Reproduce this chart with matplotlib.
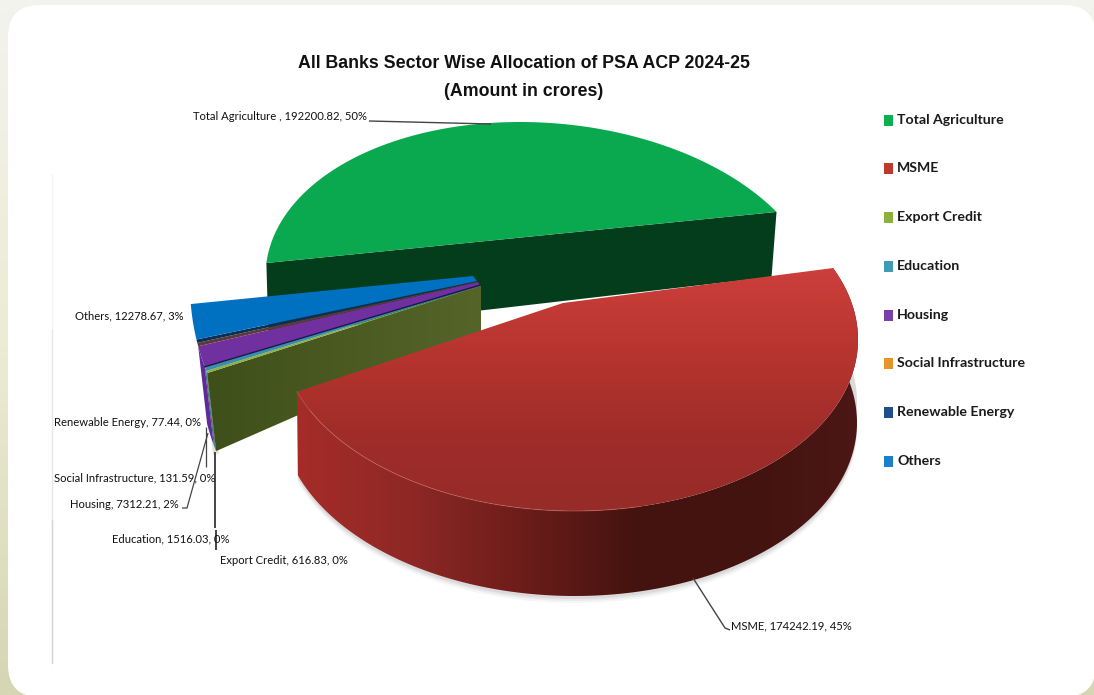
import numpy as np
import matplotlib
matplotlib.use('Agg')
import matplotlib.pyplot as plt
from matplotlib.colors import LinearSegmentedColormap
from matplotlib.patches import FancyBboxPatch, Polygon, Rectangle

# sector allocation, crores
SECTORS = ['Total Agriculture', 'MSME', 'Export Credit', 'Education', 'Housing',
           'Social Infrastructure', 'Renewable Energy', 'Others']
AMOUNTS = [192200.82, 174242.19, 616.83, 1516.03, 7312.21, 131.59, 77.44, 12278.67]
SHARES = [50, 45, 0, 0, 2, 0, 0, 3]

LEGEND_COLORS = ['#0bb050', '#c0392f', '#8cb03c', '#3f9cb5', '#7a3fa8', '#e8942a', '#1f4e8c', '#1a80cc']
FACE_COLORS = ['#0aa84f', '#c23a36', '#8fb040', '#3a8fa8', '#7030a0', '#5c3a36', '#0c2f58', '#0070c0']
WALL_COLORS = ['#033d1b', '#5c1a18', '#4a5a20', '#2f7488', '#5f2a98', '#5c3a36', '#0c2f58', '#0070c0']

TITLE_LINES = ['All Banks Sector Wise Allocation of PSA ACP 2024-25', '(Amount in crores)']

W, H = 1094, 695
GREEN_ARC = dict(center=(542.5, 290), radii=(277, 168), skew=0.081)
RED_ARC = dict(center=(569, 336), radii=(289, 175), skew=0.02)
RED_FLOOR = dict(center=(569, 419), radii=(288, 177), skew=0.02)
SMALL_ARC = dict(center=(480, 285), radii=(290, 260), skew=0.0)
MIN_SWEEP = 1.1

total = sum(AMOUNTS)
sweep = np.array(AMOUNTS) / total * 360


def arc(center, radii, skew, t0, t1, n=120):
    t = np.radians(np.linspace(t0, t1, n))
    x = center[0] + radii[0] * np.cos(t)
    y = center[1] + radii[1] * (skew * np.cos(t) + np.sqrt(1 - skew ** 2) * np.sin(t))
    return np.column_stack([x, y])


def gradient_fill(ax, xy, stops, vertical=False, z=2):
    xy = np.asarray(xy)
    poly = Polygon(xy, closed=True, fc='none', ec='none', zorder=z)
    ax.add_patch(poly)
    cmap = LinearSegmentedColormap.from_list('g', stops)
    ramp = np.linspace(0, 1, 256)
    ramp = ramp[:, None] if vertical else ramp[None, :]
    im = ax.imshow(ramp, cmap=cmap, aspect='auto', zorder=z, interpolation='bilinear',
                   extent=(xy[:, 0].min(), xy[:, 0].max(), xy[:, 1].max(), xy[:, 1].min()))
    im.set_clip_path(poly)


fig = plt.figure(figsize=(W / 100, H / 100), dpi=100)
ax = fig.add_axes([0, 0, 1, 1])
ax.set_axis_off()

# cream frame and white card
bg = np.linspace(0, 1, 64)[:, None]
ax.imshow(bg, cmap=LinearSegmentedColormap.from_list('bg', ['#f3f3ee', '#ecebd4', '#d6d6b4']),
          extent=(0, W, H, 0), aspect='auto', zorder=0)
ax.add_patch(FancyBboxPatch((8, 5), 1088, 692, boxstyle='round,pad=0,rounding_size=32',
                            fc='white', ec='none', zorder=1))
# faint rule on the left, fades out upward
ax.plot([52, 52], [175, 330], color='#f3f3f3', lw=1, zorder=1.5)
ax.plot([52, 52], [330, 520], color='#e6e6e6', lw=1, zorder=1.5)
ax.plot([52, 52], [520, 663], color='#d4d4d4', lw=1, zorder=1.5)

# Total Agriculture, pulled back from the rest
g_sweep = sweep[0] * 0.803
g_arc = arc(t0=184.6, t1=184.6 + g_sweep, **GREEN_ARC)
left, right = g_arc[0], g_arc[-1]
ax.add_patch(Polygon([left, right, right + (-5, 65), left + (2, 72)], fc=WALL_COLORS[0], ec='none', zorder=2))
ax.add_patch(Polygon(g_arc, fc=FACE_COLORS[0], ec='none', zorder=3))

# narrow slices on the left, export credit through others
small_idx = [2, 3, 4, 5, 6, 7]
small_sweep = np.maximum(sweep[small_idx], [MIN_SWEEP if i in (5, 6) else 0.7 if i == 2 else 0 for i in small_idx])
stretch = 15.6 / small_sweep.sum()
edges = 160.2 + np.concatenate([[0], np.cumsum(small_sweep * stretch)])
near_apex, far_apex = np.array([481.0, 286.0]), np.array([473.0, 276.0])
fracs = (edges - edges[0]) / (edges[-1] - edges[0])
apex_at = [near_apex + f * (far_apex - near_apex) for f in fracs]
lip = (9, 78)

# shadow under the narrow walls
end_pt = arc(t0=edges[0], t1=edges[0], n=1, **SMALL_ARC)[0]
shade = Polygon([end_pt + (-4, 4), end_pt + (6, 82), end_pt + (12, 80)], fc='#888888', alpha=0.25, ec='none', zorder=3.5)
ax.add_patch(shade)

for pos, i in enumerate(small_idx[:3]):
    seg = arc(t0=edges[pos], t1=edges[pos + 1], n=12, **SMALL_ARC)
    wall = np.vstack([seg, seg[::-1] + lip])
    ax.add_patch(Polygon(wall, fc=WALL_COLORS[i], ec='none', zorder=4))

for pos, i in enumerate(small_idx):
    seg = arc(t0=edges[pos], t1=edges[pos + 1], n=12, **SMALL_ARC)
    ax.add_patch(Polygon(np.vstack([apex_at[pos], seg, apex_at[pos + 1]]),
                         fc=FACE_COLORS[i], ec='none', zorder=5))

# dark seam along the lower side of the housing slice
seam = arc(t0=edges[2], t1=edges[2], n=1, **SMALL_ARC)[0]
ax.plot([seam[0], apex_at[2][0]], [seam[1], apex_at[2][1]], color='#1c1650', lw=1.0, zorder=5.5)

# cut wall of the export credit slice, runs back to the centre
near_top = end_pt
far_top = near_apex
wall_pts = [near_top, far_top, far_top + (0, 49), near_top + lip]
gradient_fill(ax, wall_pts, ['#3e4f1a', '#4a5a20', '#55652a'], z=4.5)

# MSME, pulled toward the viewer
r_sweep = sweep[1] * 1.141
r_top = arc(t0=-24, t1=-24 + r_sweep, n=240, **RED_ARC)
r_low = arc(t0=-24, t1=-24 + r_sweep, n=240, **RED_FLOOR)
red_apex = np.array([563.0, 303.0])

for off, alpha in ((7, 0.05), (5, 0.07), (3, 0.1)):
    ax.add_patch(Polygon(np.vstack([r_low + (0, off), r_low[::-1] + (0, -20)]),
                         fc='#555555', alpha=alpha, ec='none', zorder=5.7))

gradient_fill(ax, np.vstack([r_top, r_low[::-1]]),
              ['#a52c29', '#8e2825', '#6c1d1a', '#45130f', '#421310', '#4c1714'], z=6)
gradient_fill(ax, np.vstack([red_apex, r_top]), ['#cc3f3b', '#b8352f', '#a02d2a', '#962b28'], vertical=True, z=7)
ax.plot(r_top[130:, 0], r_top[130:, 1], color='#cf6a62', lw=0.7, alpha=0.5, zorder=7.5)

# leaders
LC = '#444444'
leaders = [
    ([369, 491], [121, 124], 1.0),
    ([693, 725, 730], [578, 628, 630], 1.0),
    ([206, 206], [427, 467], 0.9),
    ([208, 187, 182], [433, 508, 508], 0.9),
    ([215, 215], [452, 528], 1.4),
    ([216, 216], [530, 550], 1.4),
]
for xs, ys, lw in leaders:
    ax.plot(xs, ys, color=LC, lw=lw, zorder=8, solid_capstyle='butt')

# data labels
label_names = list(SECTORS)
label_names[0] = 'Total Agriculture '
label_pos = [(193, 116), (731, 626), (220, 561), (112, 539), (70, 504), (54, 478), (54, 422), (75, 316)]
for name, amount, share, (lx, ly) in zip(label_names, AMOUNTS, SHARES, label_pos):
    ax.text(lx, ly, f'{name}, {amount:.2f}, {share}%', family='Lato', fontsize=8.15, color='#111111',
            va='center', ha='left', zorder=9)

# legend
legend_y = [120, 168, 217, 266, 315, 363, 412, 461]
for name, col, y in zip(SECTORS, LEGEND_COLORS, legend_y):
    ax.add_patch(Rectangle((884, y - 5.5), 9, 11, fc=col, ec='none', zorder=9))
    ax.text(897, y, name, family='Lato', weight='bold', fontsize=10.2, color='#1a1a1a',
            va='center', ha='left', zorder=9)

for line, y in zip(TITLE_LINES, (64, 91)):
    ax.text(524, y, line, family='Liberation Sans', weight='bold', fontsize=12.8, color='#111111',
            ha='center', va='center', zorder=9)

ax.set_xlim(0, W)
ax.set_ylim(H, 0)
fig.savefig('out.png', dpi=100)
